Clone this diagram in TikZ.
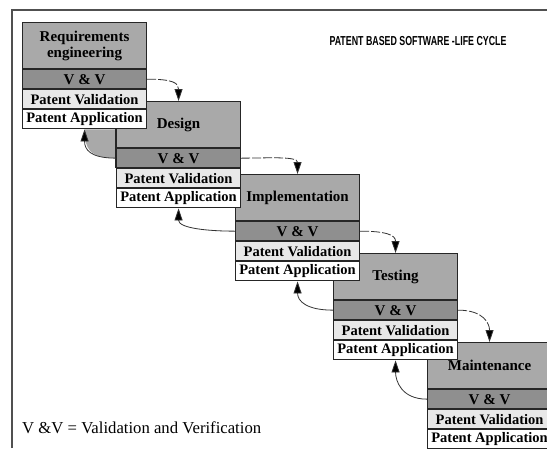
\documentclass[tikz,border=0pt]{standalone}
\usepackage{fontspec}
\setmainfont{Liberation Serif}
\newfontfamily\titlefont{Liberation Sans}
\usetikzlibrary{arrows.meta}
\definecolor{hdrgray}{HTML}{A9A9A9}
\definecolor{vvgray}{HTML}{8F8F8F}
\definecolor{pvgray}{HTML}{E8E8E8}
\definecolor{framegray}{HTML}{505050}
\tikzset{
  cell/.style={draw=black!85, line width=1.1pt, minimum width=124pt, anchor=north west,
    inner sep=0pt, align=center},
  hdr/.style={cell, fill=hdrgray, minimum height=46pt, font=\bfseries\fontsize{15}{16}\selectfont},
  vvrow/.style={cell, fill=vvgray, minimum height=19pt, font=\bfseries\fontsize{15}{15}\selectfont},
  pvrow/.style={cell, fill=pvgray, minimum height=19pt, font=\bfseries\fontsize{14.5}{15}\selectfont},
  parow/.style={cell, fill=white, minimum height=19pt, font=\bfseries\fontsize{14.5}{15}\selectfont},
  fwd/.style={draw=black!80, line width=0.8pt, dash pattern=on 9pt off 2pt,
    -{Triangle[length=12pt,width=8pt,fill=black]}},
  bck/.style={draw=black!80, line width=0.8pt,
    -{Triangle[length=12pt,width=8pt,fill=black]}},
  frame/.style={draw=framegray, line width=1.6pt}
}
\begin{document}
\begin{tikzpicture}[x=1pt,y=-1pt]
\useasboundingbox (0,0) rectangle (547,448);
\fill[white] (0,0) rectangle (547,448);
\clip (0,0) rectangle (547,448);
\draw[frame] (12,448) -- (12,10) -- (547,10);
\foreach \i/\x/\y/\t in {5/427/342/Maintenance,4/333/253/Testing,3/235/174/Implementation,2/116/101/Design,1/22/22/{Requirements\\engineering}}{
  \node[hdr] (h\i) at (\x,\y) {\t};
  \node[vvrow] (v\i) at (h\i.south west) {V \& V};
  \node[pvrow] (p\i) at (v\i.south west) {Patent Validation};
  \node[parow] (a\i) at (p\i.south west) {Patent Application};
}
% gray filled wedge under the first return arrow
\fill[hdrgray] (v2.west) .. controls +(-26,0) and +(0,20) .. (a1.south) -- (a1.south -| v2.west) -- cycle;
\draw[black!85, line width=1.1pt] (a1.south -| h2.west) -- (v2.south west);
\foreach \i/\j in {1/2,2/3,3/4,4/5}{
  \draw[fwd] (v\i.east) .. controls +(26,0) and +(0,-18) .. (h\j.north);
  \draw[bck] (v\j.west) .. controls +(-26,0) and +(0,20) .. (a\i.south);
}
\node (title) at (418,41) {\scalebox{0.68}[1]{\titlefont\bfseries\fontsize{13}{13}\selectfont PATENT BASED SOFTWARE -LIFE CYCLE}};
\node[anchor=west, inner sep=0pt] (legend) at (22,428) {\fontsize{16.7}{17}\selectfont V \&V = Validation and Verification};
\end{tikzpicture}
\end{document}
